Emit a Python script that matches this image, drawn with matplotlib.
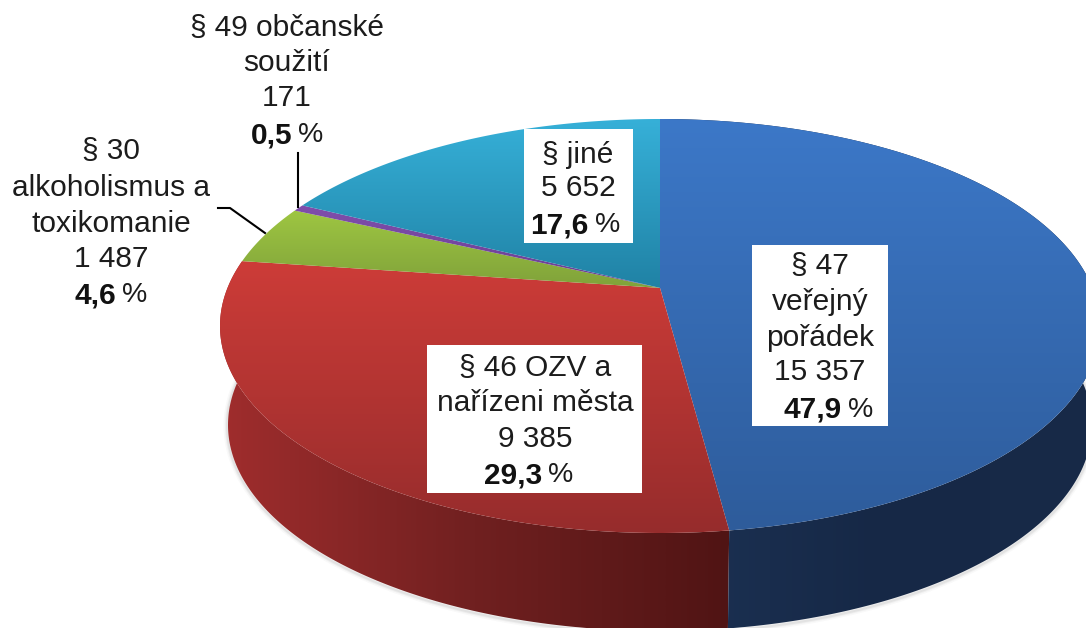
import numpy as np
import matplotlib
matplotlib.use("Agg")
import matplotlib.pyplot as plt
from matplotlib.patches import Polygon, Rectangle
from matplotlib.colors import LinearSegmentedColormap

plt.rcParams['font.family'] = ['Liberation Sans', 'DejaVu Sans']

categories = ["§ 47 veřejný pořádek", "§ 46 OZV a nařízeni města",
              "§ 30 alkoholismus a toxikomanie", "§ 49 občanské soužití", "§ jiné"]
values = [15357, 9385, 1487, 171, 5652]
value_labels = ["15 357", "9 385", "1 487", "171", "5 652"]
percent_labels = ["47,9", "29,3", "4,6", "0,5", "17,6"]
top_colors = [((60, 120, 200), (46, 92, 155)),
              ((205, 60, 56), (150, 44, 44)),
              ((158, 198, 66), (128, 162, 58)),
              ((128, 78, 172), (105, 62, 145)),
              ((54, 176, 216), (32, 130, 165))]

# Tilted disc geometry in pixel coordinates
CX, CY, RX, RY = 660, 326, 440, 207
LX, LY, LRX, LRY = 660, 425, 432, 206
TILT = 0.184

W, H = 1086, 628
fig = plt.figure(figsize=(W / 100, H / 100), dpi=100, facecolor="white")
ax = fig.add_axes([0, 0, 1, 1])
ax.set_xlim(0, W)
ax.set_ylim(H, 0)
ax.axis("off")


def rim(theta_deg, cx=CX, cy=CY, rx=RX, ry=RY):
    t = np.radians(theta_deg)
    x, y = np.sin(t), np.cos(t)
    d = 1 + TILT * y
    return (cx + rx * np.sqrt(1 - TILT ** 2) * x / d,
            cy - ry * (y + TILT) / d)


def gradient_fill(poly, c1, c2, horizontal=False, z=1, stops=None):
    cols = stops if stops else [c1, c2]
    cmap = LinearSegmentedColormap.from_list("g", [tuple(v / 255 for v in c) for c in cols])
    xs, ys = poly[:, 0], poly[:, 1]
    g = np.linspace(0, 1, 256)
    g = g[None, :] if horizontal else g[:, None]
    im = ax.imshow(g, cmap=cmap, aspect="auto", zorder=z, interpolation="bilinear",
                   extent=(xs.min(), xs.max(), ys.max(), ys.min()), vmin=0, vmax=1)
    patch = Polygon(poly, closed=True, transform=ax.transData, facecolor="none", edgecolor="none")
    ax.add_patch(patch)
    im.set_clip_path(patch)


edges = np.concatenate([[0], np.cumsum(values)]) / np.sum(values) * 360

# soft shadow under the body
st = np.linspace(60, 300, 300)
sx, sy = rim(st, LX, LY + 1, LRX + 1, LRY + 1)
for w, a in [(5, .03), (3, .05), (1.5, .07)]:
    ax.plot(sx, sy, color="#444444", lw=w, alpha=a, zorder=0.5, solid_capstyle="round")

# side walls: the two front slices
side_stops = [[(24, 42, 72), (22, 40, 70), (28, 50, 84)],
              [(160, 45, 45), (112, 32, 32), (80, 20, 20)]]
for i in (1, 0):
    t = np.linspace(edges[i], edges[i + 1], 300)
    tx, ty = rim(t)
    bx, by = rim(t, LX, LY, LRX, LRY)
    poly = np.column_stack([np.r_[tx, bx[::-1]], np.r_[ty, by[::-1]]])
    stops = side_stops[i][::-1] if i == 0 else side_stops[i]
    gradient_fill(poly, None, None, horizontal=True, z=1 + (i == 0) * 0.1, stops=stops)

# top faces
for i in range(len(values)):
    t = np.linspace(edges[i], edges[i + 1], 300)
    tx, ty = rim(t)
    poly = np.column_stack([np.r_[CX, tx], np.r_[CY - RY * TILT, ty]])
    gradient_fill(poly, top_colors[i][0], top_colors[i][1], z=2 + i * 0.01)

# leader lines
ax.plot([298, 298], [153, 207], color="black", lw=1.5, zorder=3)
ax.plot([218, 230, 265], [208, 208, 233], color="black", lw=1.5, zorder=3)

# label boxes
for (x0, y0, x1, y1) in [(752, 245, 888, 426), (427, 345, 642, 493), (524, 129, 633, 243)]:
    ax.add_patch(Rectangle((x0, y0), x1 - x0, y1 - y0, facecolor="white", edgecolor="none", zorder=4))

FS = 21.5
TC = "#1c1c1c"


def lines(x, rows, pct, pct_y, split):
    for txt, y in rows:
        ax.text(x, y, txt, ha="center", va="center", fontsize=FS, color=TC, zorder=5)
    ax.text(split - 6, pct_y, pct, ha="right", va="center", fontsize=FS,
            fontweight="bold", color="#111111", zorder=5)
    ax.text(split, pct_y, "%", ha="left", va="center", fontsize=FS - 1, color=TC, zorder=5)


lines(820, [("§ 47", 266), ("veřejný", 302), ("pořádek", 338), (value_labels[0], 372)],
      percent_labels[0], 410, 848)
lines(535, [("§ 46 OZV a", 368), ("nařízeni města", 403), (value_labels[1], 439)],
      percent_labels[1], 475, 548)
lines(111, [("§ 30", 151), ("alkoholismus a", 188), ("toxikomanie", 224), (value_labels[2], 259)],
      percent_labels[2], 295, 122)
lines(287, [("§ 49 občanské", 28), ("soužití", 63), (value_labels[3], 98)],
      percent_labels[3], 135, 298)
lines(578, [("§ jiné", 155), (value_labels[4], 188)],
      percent_labels[4], 225, 595)

fig.savefig("out.png", dpi=100, facecolor="white")
